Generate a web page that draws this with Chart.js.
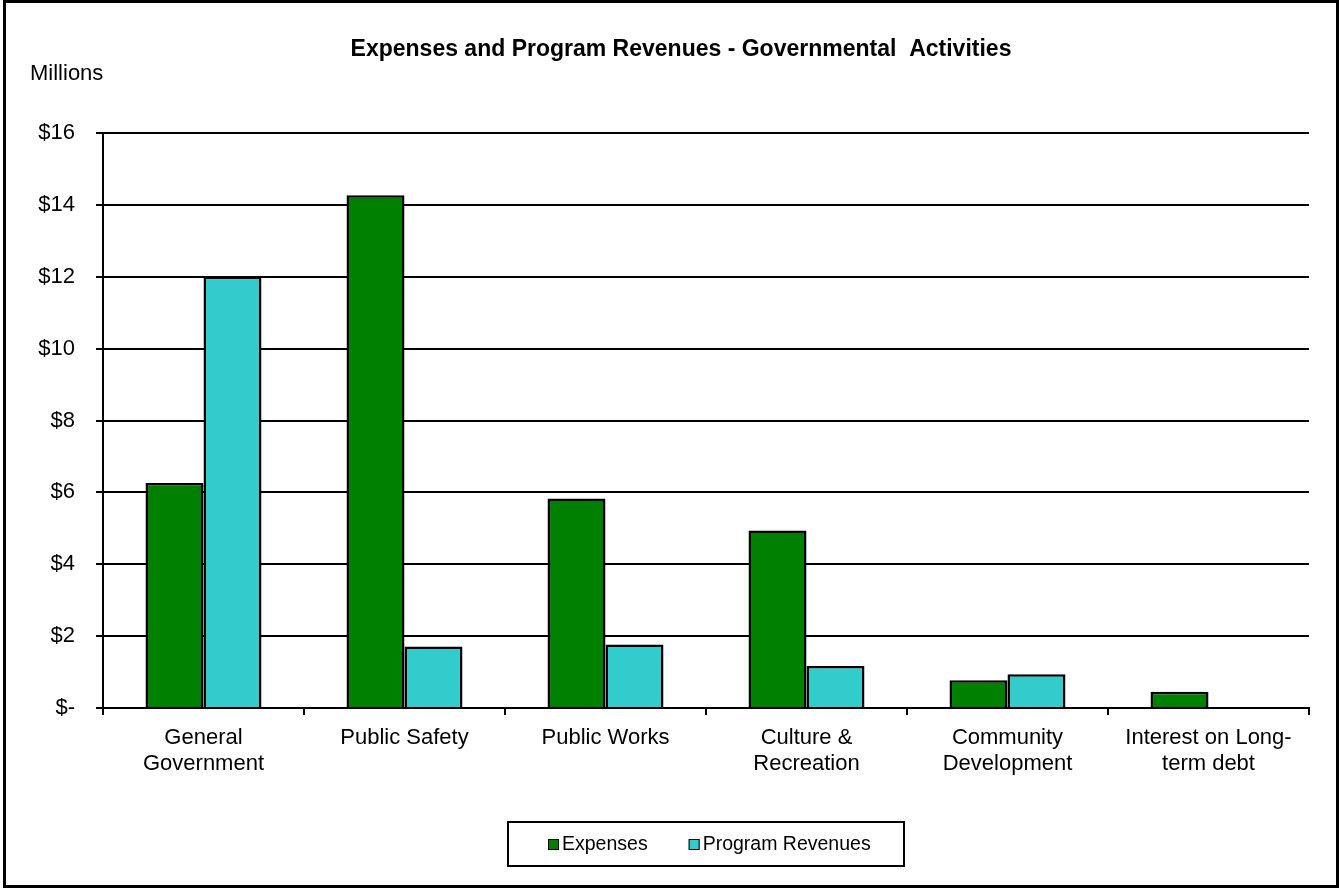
<!DOCTYPE html>
<html>
<head>
<meta charset="utf-8">
<title>Expenses and Program Revenues</title>
<script src="https://cdn.jsdelivr.net/npm/chart.js@4/dist/chart.umd.min.js"></script>
<style>
  body { margin: 0; background: #fff; }
  canvas { display: block; }
</style>
</head>
<body>
<canvas id="bar-chart" width="1339" height="888"></canvas>
<script>
// values in millions of dollars
const categories = [
  ["General", "Government"],
  ["Public Safety"],
  ["Public Works"],
  ["Culture &", "Recreation"],
  ["Community", "Development"],
  ["Interest on Long-", "term debt"],
];
const expenses = [6.26, 14.27, 5.83, 4.94, 0.77, 0.45];
const programRevenues = [12.0, 1.71, 1.77, 1.17, 0.94, null];
const yTickValues = [0, 2, 4, 6, 8, 10, 12, 14, 16];

const chartTitle = "Expenses and Program Revenues - Governmental  Activities";
const fontFamily = "'Liberation Sans', Arial, sans-serif";
Chart.defaults.font.family = fontFamily;
Chart.defaults.color = "#000";

// white page, heavy black frame, title and unit label
const framePlugin = {
  id: "frame",
  beforeDraw(chart) {
    const ctx = chart.ctx;
    ctx.save();
    ctx.fillStyle = "#fff";
    ctx.fillRect(0, 0, chart.width, chart.height);
    ctx.restore();
  },
  afterDraw(chart) {
    const ctx = chart.ctx;
    ctx.save();
    ctx.lineWidth = 3;
    ctx.strokeStyle = "#000";
    ctx.strokeRect(4.5, 1.5, chart.width - 6, chart.height - 3);
    ctx.fillStyle = "#000";
    ctx.textBaseline = "middle";
    ctx.textAlign = "center";
    ctx.font = "bold 23px " + fontFamily;
    ctx.fillText(chartTitle, 681, 50);
    ctx.textAlign = "left";
    ctx.font = "22px " + fontFamily;
    ctx.fillText("Millions", 30, 74);
    ctx.restore();
  },
};

// legend with a box around it, under the category labels
const boxedLegend = {
  id: "boxedLegend",
  afterDraw(chart) {
    const ctx = chart.ctx;
    const area = chart.chartArea;
    ctx.save();
    ctx.font = "19.5px " + fontFamily;
    const items = chart.data.datasets.map((ds) => ({
      label: ds.label,
      color: ds.backgroundColor,
      w: ctx.measureText(ds.label).width,
    }));
    const sq = 11, gapText = 3, gapItem = 41, padL = 40, padR = 33;
    const contentW = items.reduce((s, it) => s + sq + gapText + it.w, 0) + gapItem * (items.length - 1);
    const boxW = Math.round(contentW + padL + padR);
    const left = Math.round((area.left + area.right) / 2 - boxW / 2);
    const top = 822, h = 44;
    ctx.lineWidth = 2;
    ctx.strokeStyle = "#000";
    ctx.strokeRect(left, top, boxW, h);
    let x = left + padL;
    const cy = top + h / 2 + 1;
    ctx.textBaseline = "middle";
    items.forEach((it) => {
      ctx.fillStyle = it.color;
      ctx.fillRect(x, cy - 6, sq, sq);
      ctx.lineWidth = 1;
      ctx.strokeRect(x + 0.5, cy - 5.5, sq - 1, sq - 1);
      x += sq + gapText;
      ctx.fillStyle = "#000";
      ctx.fillText(it.label, x, cy);
      x += it.w + gapItem;
    });
    ctx.restore();
  },
};

new Chart(document.getElementById("bar-chart"), {
  type: "bar",
  data: {
    labels: categories,
    datasets: [
      {
        label: "Expenses",
        data: expenses,
        backgroundColor: "#008000",
        borderColor: "#000",
        borderWidth: 2.5,
      },
      {
        label: "Program Revenues",
        data: programRevenues,
        backgroundColor: "#33CCCC",
        borderColor: "#000",
        borderWidth: 2.5,
      },
    ],
  },
  options: {
    responsive: false,
    animation: false,
    devicePixelRatio: 1,
    categoryPercentage: 0.577,
    barPercentage: 1.0,
    layout: { padding: { left: 20, right: 30, top: 133, bottom: 0 } },
    plugins: {
      legend: { display: false },
      tooltip: { enabled: false },
      title: { display: false },
    },
    scales: {
      x: {
        grid: {
          offset: true,
          drawOnChartArea: false,
          drawTicks: true,
          tickLength: 7,
          color: "#000",
          lineWidth: 2,
        },
        border: { display: true, color: "#000", width: 2 },
        ticks: {
          autoSkip: false,
          maxRotation: 0,
          padding: 10,
          font: { size: 22, lineHeight: 1.18 },
          color: "#000",
        },
        afterFit(scale) {
          scale.height = 180;
        },
      },
      y: {
        min: 0,
        max: 16,
        afterBuildTicks(scale) {
          scale.ticks = yTickValues.map((v) => ({ value: v }));
        },
        grid: {
          color: "#000",
          lineWidth: 2,
          tickLength: 7,
        },
        border: { display: true, color: "#000", width: 2 },
        ticks: {
          padding: 21,
          font: { size: 22 },
          color: "#000",
          callback: (v) => (v === 0 ? "$-" : "$" + v),
        },
        afterFit(scale) {
          scale.width = 83;
        },
      },
    },
  },
  plugins: [framePlugin, boxedLegend],
});
</script>
</body>
</html>
